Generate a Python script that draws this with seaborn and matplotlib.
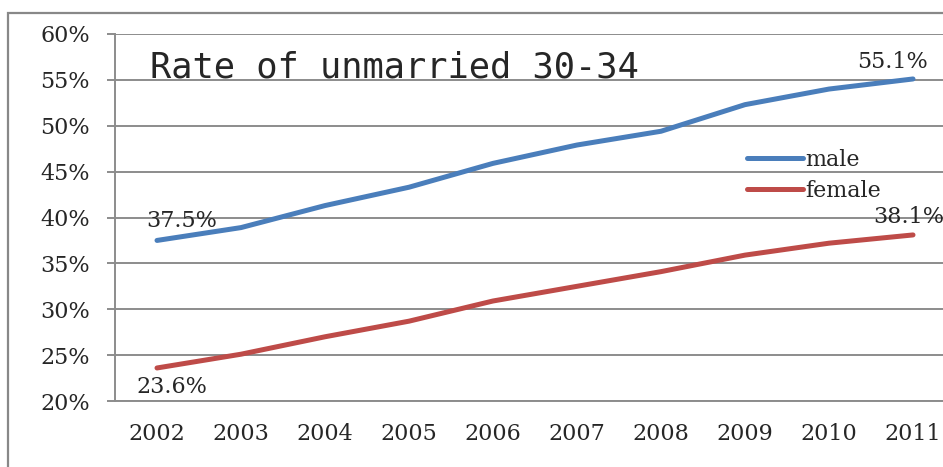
import pandas as pd
import numpy as np
import matplotlib
matplotlib.use("Agg")
import matplotlib.pyplot as plt
import seaborn as sns
from matplotlib.patches import Rectangle

# data
years = [2002, 2003, 2004, 2005, 2006, 2007, 2008, 2009, 2010, 2011]
male = [37.5, 38.9, 41.3, 43.3, 45.9, 47.9, 49.4, 52.3, 54.0, 55.1]
female = [23.6, 25.1, 27.0, 28.7, 30.9, 32.5, 34.1, 35.9, 37.2, 38.1]
series_names = ["male", "female"]
colors = ["#4A7EBB", "#BE4B48"]

GRID = "#8C8C8C"
TICK_FONT = 16

df = pd.DataFrame({
    "year": years * 2,
    "rate": male + female,
    "sex": ["male"] * len(years) + ["female"] * len(years),
})

sns.set_style("white")
plt.rcParams["font.family"] = ["DejaVu Serif"]

fig = plt.figure(figsize=(9.43, 4.67), dpi=100)
# outer chart frame, cropped on the right and bottom like the reference
fig.patches.append(Rectangle((8 / 943, -0.1), 1.2, 1.1 - 13 / 467, transform=fig.transFigure,
                             fill=False, edgecolor="#888888", linewidth=1.6))

ax = fig.add_axes([115 / 943, 1 - 401 / 467, 840 / 943, (401 - 34) / 467])
sns.lineplot(data=df, x="year", y="rate", hue="sex", hue_order=series_names,
             palette=colors, linewidth=3.6, ax=ax, legend=True,
             solid_capstyle="round")

ax.set_xlim(years[0] - 0.5, years[-1] + 0.5)
ax.set_ylim(20, 60)
ax.set_yticks(np.arange(20, 61, 5))
ax.set_yticklabels([f"{v}%" for v in range(20, 61, 5)], fontsize=TICK_FONT)
ax.yaxis.grid(True, color=GRID, linewidth=1.4)
ax.xaxis.grid(False)

# category boundaries as major ticks, labels at the centres
ax.set_xticks(np.arange(years[0] - 0.5, years[-1] + 1, 1.0))
ax.set_xticklabels([])
ax.set_xticks(years, minor=True)
ax.set_xticklabels([str(y) for y in years], minor=True, fontsize=TICK_FONT)
ax.tick_params(axis="x", which="major", length=7, width=1.4, color=GRID, direction="out")
ax.tick_params(axis="x", which="minor", length=0, pad=16)
ax.tick_params(axis="y", length=6, width=1.4, color=GRID, pad=12, left=True)
ax.set_xlabel("")
ax.set_ylabel("")

for side in ["top", "right"]:
    ax.spines[side].set_visible(False)
for side in ["left", "bottom"]:
    ax.spines[side].set_color(GRID)
    ax.spines[side].set_linewidth(1.4)

# data labels at the ends
ax.annotate(f"{male[0]}%", (years[0], male[0]), xytext=(18, 14), textcoords="offset points",
            ha="center", va="center", fontsize=TICK_FONT)
ax.annotate(f"{male[-1]}%", (years[-1], male[-1]), xytext=(-15, 12), textcoords="offset points",
            ha="center", va="center", fontsize=TICK_FONT)
ax.annotate(f"{female[0]}%", (years[0], female[0]), xytext=(11, -14), textcoords="offset points",
            ha="center", va="center", fontsize=TICK_FONT)
ax.annotate(f"{female[-1]}%", (years[-1], female[-1]), xytext=(-3, 13), textcoords="offset points",
            ha="center", va="center", fontsize=TICK_FONT, annotation_clip=False)

ax.text(0.042, 0.955, "Rate of unmarried 30-34", transform=ax.transAxes,
        fontsize=25.5, family="DejaVu Sans Mono", va="top", ha="left")

leg = ax.legend(loc="upper left", bbox_to_anchor=(736 / 943, 1 - 138 / 467),
                bbox_transform=fig.transFigure, frameon=False, fontsize=TICK_FONT,
                handlelength=2.5, handletextpad=0.1, labelspacing=0.4, borderpad=0)
for line in leg.get_lines():
    line.set_linewidth(3.6)

fig.savefig("out.png", dpi=100)
